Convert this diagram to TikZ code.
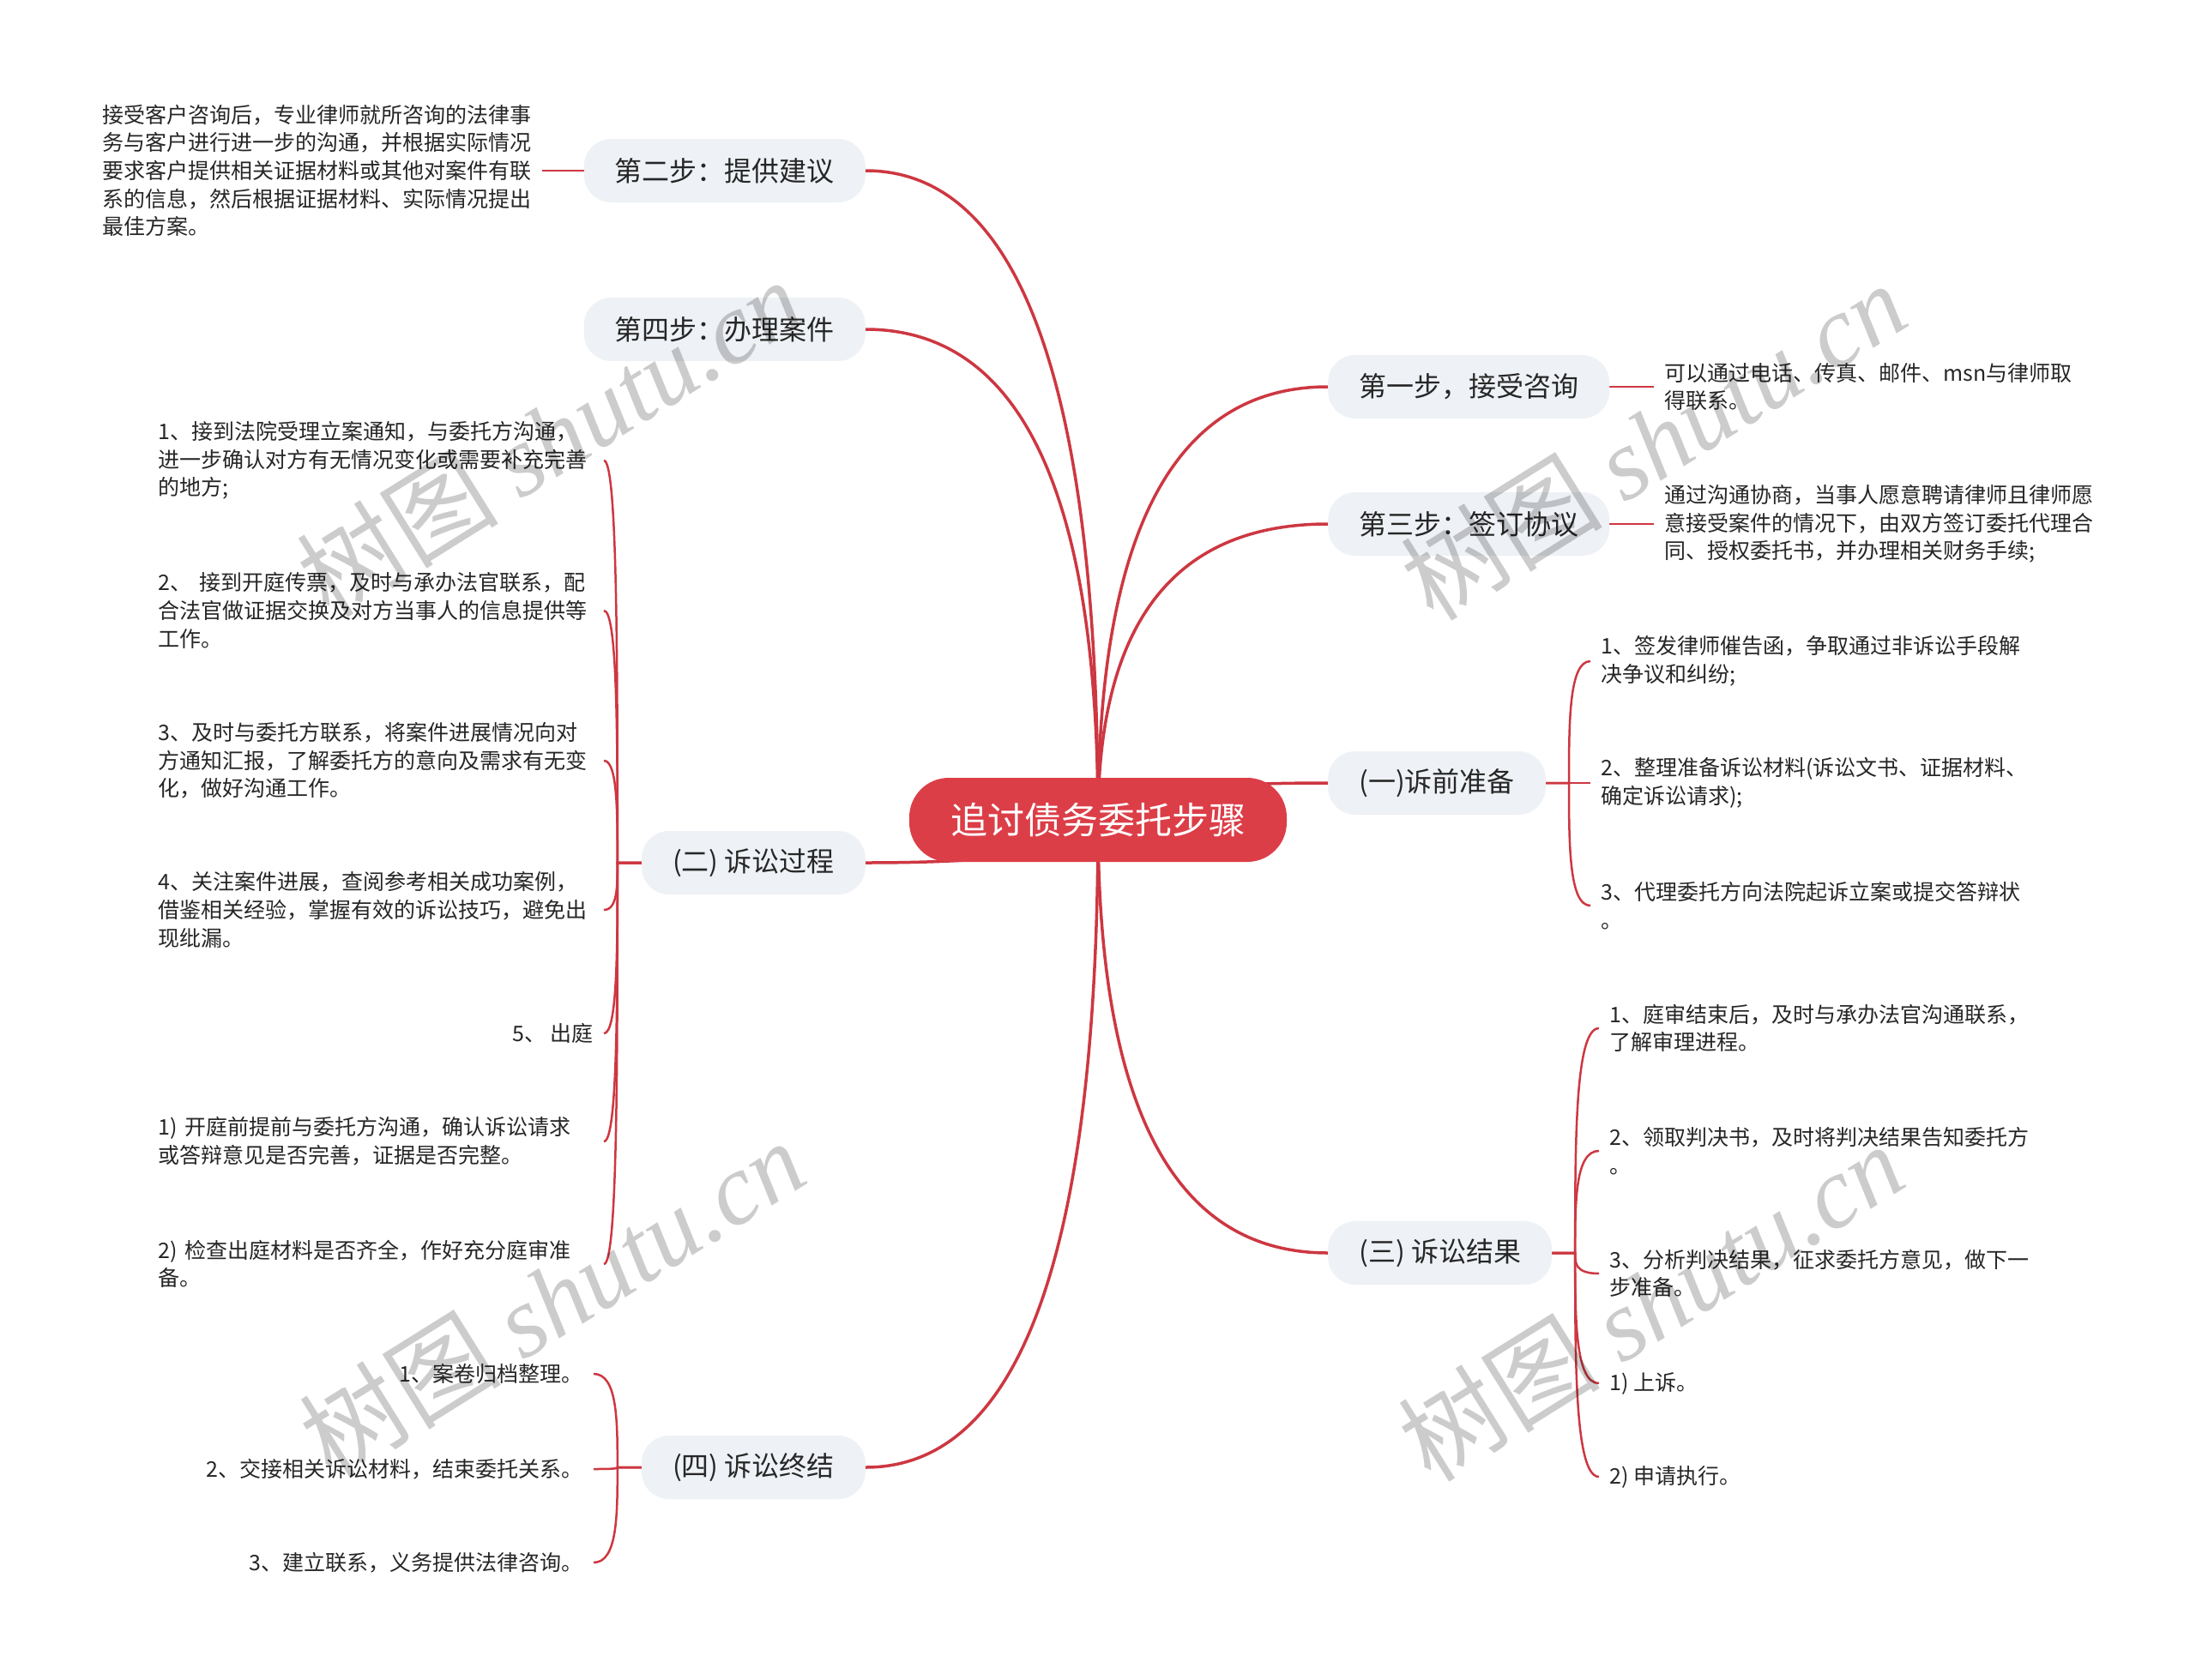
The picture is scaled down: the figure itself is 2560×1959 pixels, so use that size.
\documentclass[tikz,border=0pt]{standalone}
\usepackage{fontspec}
\newfontfamily\cjk{Noto Sans CJK SC}
\newfontfamily\wmlat{Liberation Serif}
\usetikzlibrary{calc}
\definecolor{mainred}{RGB}{220,62,72}
\definecolor{linered}{RGB}{205,55,65}
\definecolor{pillc}{RGB}{238,241,245}
\definecolor{txt}{RGB}{38,38,38}
\pgfdeclarelayer{bg}
\pgfdeclarelayer{links}
\pgfsetlayers{bg,links,main}
\tikzset{
  pill/.style={fill=pillc, rounded corners=32pt, minimum height=74pt, inner xsep=36pt, inner ysep=0pt,
    font=\cjk\fontsize{32}{38}\selectfont, text=txt},
  rootnode/.style={fill=mainred, rounded corners=46pt, minimum height=98pt, minimum width=440pt,
    font=\cjk\fontsize{43}{50}\selectfont, text=white},
  leafnode/.style={font=\cjk\fontsize{25}{32.65}\selectfont, text=txt, align=left, inner xsep=12pt, inner ysep=2pt},
  wideleaf/.style={leafnode, text width=507pt},
  mainlink/.style={draw=linered, line width=3.5pt},
  sublink/.style={draw=linered, line width=2.5pt},
  wmark/.style={rotate=32, text=black, text opacity=0.2, font=\cjk\fontsize{118}{120}\selectfont, inner sep=0pt},
}
\newcommand\mlink[2]{%
  \path (#1|-#2) coordinate (kk);
  \draw[mainlink] (#1) .. controls ($(#1)!0.667!(kk)$) and ($(#2)!0.667!(kk)$) .. (#2);}
\newcommand\slink[3]{%
  \path (#2|-#3) coordinate (kc);
  \draw[sublink] (#1) -- (#2) .. controls ($(#2)!0.5!(kc)$) and (kc) .. (#3);}
\begin{document}
\begin{tikzpicture}[x=1pt,y=-1pt]
\begin{pgfonlayer}{bg}
  \fill[white] (0,0) rectangle (2560,1959);
\end{pgfonlayer}
\useasboundingbox (0,0) rectangle (2560,1959);

% root
\node[rootnode] (c) at (1280,956) {追讨债务委托步骤};

% main topics, left
\node[pill, anchor=east] (s2) at (1009,199) {第二步：提供建议};
\node[pill, anchor=east] (s4) at (1009,384) {第四步：办理案件};
\node[pill, anchor=east] (p2) at (1009,1006) {(二) 诉讼过程};
\node[pill, anchor=east] (p4) at (1009,1711) {(四) 诉讼终结};
% main topics, right
\node[pill, anchor=west] (s1) at (1548,451) {第一步，接受咨询};
\node[pill, anchor=west] (s3) at (1548,611) {第三步：签订协议};
\node[pill, anchor=west] (p1) at (1548,913) {(一)诉前准备};
\node[pill, anchor=west] (p3) at (1548,1461) {(三) 诉讼结果};

% leaves
\node[leafnode, anchor=east] (s2l) at (632,199) {接受客户咨询后，专业律师就所咨询的法律事\\务与客户进行进一步的沟通，并根据实际情况\\要求客户提供相关证据材料或其他对案件有联\\系的信息，然后根据证据材料、实际情况提出\\最佳方案。};
\node[leafnode, anchor=west] (s1l) at (1928,451) {可以通过电话、传真、邮件、msn与律师取\\得联系。};
\node[leafnode, anchor=west] (s3l) at (1928,611) {通过沟通协商，当事人愿意聘请律师且律师愿\\意接受案件的情况下，由双方签订委托代理合\\同、授权委托书，并办理相关财务手续;};

\node[leafnode, anchor=west] (l11) at (1854,771) {1、签发律师催告函，争取通过非诉讼手段解\\决争议和纠纷;};
\node[leafnode, anchor=west] (l12) at (1854,913) {2、整理准备诉讼材料(诉讼文书、证据材料、\\确定诉讼请求);};
\node[leafnode, anchor=west] (l13) at (1854,1056) {3、代理委托方向法院起诉立案或提交答辩状\\。};

\node[leafnode, anchor=west] (l31) at (1864,1199) {1、庭审结束后，及时与承办法官沟通联系，\\了解审理进程。};
\node[leafnode, anchor=west] (l32) at (1864,1342) {2、领取判决书，及时将判决结果告知委托方\\。};
\node[leafnode, anchor=west] (l33) at (1864,1485) {3、分析判决结果，征求委托方意见，做下一\\步准备。};
\node[leafnode, anchor=west] (l34) at (1864,1613) {1) 上诉。};
\node[leafnode, anchor=west] (l35) at (1864,1722) {2) 申请执行。};

\node[wideleaf, anchor=east] (l21) at (704,537) {1、接到法院受理立案通知，与委托方沟通，\\进一步确认对方有无情况变化或需要补充完善\\的地方;};
\node[wideleaf, anchor=east] (l22) at (704,712) {2、 接到开庭传票，及时与承办法官联系，配\\合法官做证据交换及对方当事人的信息提供等\\工作。};
\node[wideleaf, anchor=east] (l23) at (704,887) {3、及时与委托方联系，将案件进展情况向对\\方通知汇报，了解委托方的意向及需求有无变\\化，做好沟通工作。};
\node[wideleaf, anchor=east] (l24) at (704,1061) {4、关注案件进展，查阅参考相关成功案例，\\借鉴相关经验，掌握有效的诉讼技巧，避免出\\现纰漏。};
\node[leafnode, anchor=east] (l25) at (704,1205) {5、 出庭};
\node[wideleaf, anchor=east] (l26) at (704,1331) {1) 开庭前提前与委托方沟通，确认诉讼请求\\或答辩意见是否完善，证据是否完整。};
\node[wideleaf, anchor=east] (l27) at (704,1474) {2) 检查出庭材料是否齐全，作好充分庭审准\\备。};

\node[leafnode, anchor=east] (l41) at (692,1602) {1、案卷归档整理。};
\node[leafnode, anchor=east] (l42) at (692,1713) {2、交接相关诉讼材料，结束委托关系。};
\node[leafnode, anchor=east] (l43) at (692,1822) {3、建立联系，义务提供法律咨询。};

% connectors
\begin{pgfonlayer}{links}
  \foreach \t in {s2.east,s4.east,p2.east,p4.east,s1.west,s3.west,p1.west,p3.west}
    {\mlink{c.center}{\t}}
  \draw[sublink] (s2l.east) -- (s2.west);
  \draw[sublink] (s1.east) -- (s1l.west);
  \draw[sublink] (s3.east) -- (s3l.west);
  \coordinate (t2) at ($(p2.west)+(-28,0)$);
  \coordinate (t4) at ($(p4.west)+(-28,0)$);
  \coordinate (t1) at ($(p1.east)+(27,0)$);
  \coordinate (t3) at ($(p3.east)+(27,0)$);
  \foreach \l in {l21,l22,l23,l24,l25,l26,l27} {\slink{p2.west}{t2}{\l.east}}
  \foreach \l in {l41,l42,l43} {\slink{p4.west}{t4}{\l.east}}
  \foreach \l in {l11,l12,l13} {\slink{p1.east}{t1}{\l.west}}
  \foreach \l in {l31,l32,l33,l34,l35} {\slink{p3.east}{t3}{\l.west}}
\end{pgfonlayer}

% watermarks
\node[wmark] (w1) at (640,510) {树图 {\wmlat\itshape shutu.cn}};
\node[wmark] (w2) at (1927,514) {树图 {\wmlat\itshape shutu.cn}};
\node[wmark] (w3) at (643,1514) {树图 {\wmlat\itshape shutu.cn}};
\node[wmark] (w4) at (1924,1518) {树图 {\wmlat\itshape shutu.cn}};
\end{tikzpicture}
\end{document}
